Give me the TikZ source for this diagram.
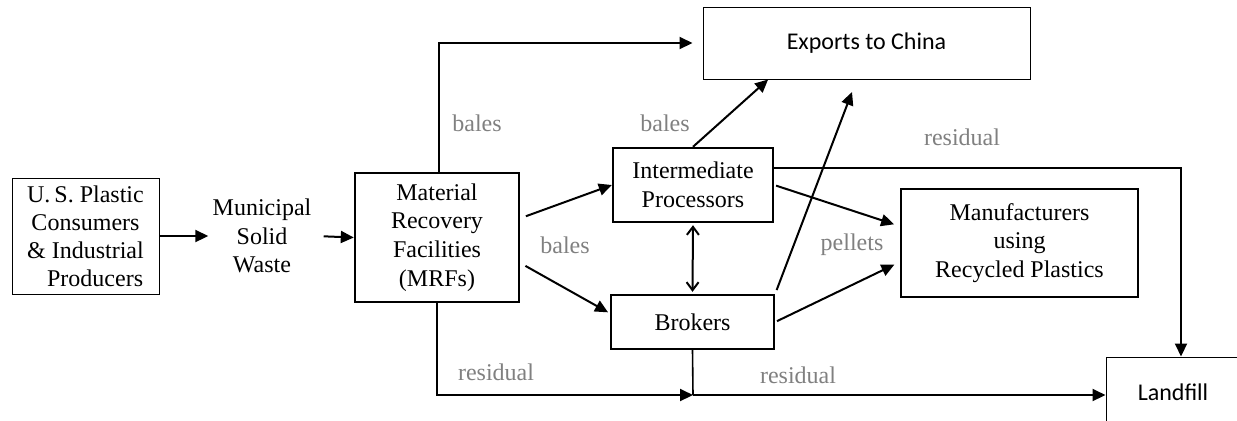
\documentclass[tikz,border=0pt]{standalone}
\usepackage{fontspec}
\setmainfont{Liberation Serif}
\newfontfamily\calfont{Carlito}
\usepackage{tikz}
\usetikzlibrary{calc,positioning,arrows.meta}
\tikzset{
	>={Triangle[length=6.5pt,width=6pt]},
	heavy/.style={draw, line width=1.2pt, align=center, inner sep=0pt},
	light/.style={draw, line width=0.5pt, align=center, inner sep=0pt, font=\calfont\fontsize{12}{14.4}\selectfont},
	plain/.style={align=center, inner sep=2pt},
	flow/.style={->, line width=1pt},
	tag/.style={text=gray, inner sep=0pt},
}
\definecolor{gray}{rgb}{0.5,0.5,0.5}

\begin{document}
\begin{tikzpicture}[
            x=0.5pt, y=-0.5pt,
            font=\fontsize{12}{14.4}\selectfont
        ]
        \useasboundingbox (0,0) rectangle (1237,420);
        % boxes
        \node[light, font=\fontsize{12}{14}\selectfont, minimum width=73.5pt, minimum height=58pt] (us) at (85.5,236)
            {U.\,S. Plastic\\Consumers\\\& Industrial\\\hspace{0.8em}Producers};
        \node[plain] (msw) at (262,236) {Municipal\\Solid\\Waste};
        \node[heavy, minimum width=82pt, minimum height=64.5pt] (mrf) at (437,237.5)
            {Material\\Recovery\\Facilities\\(MRFs)};
        \node[light, minimum width=163.5pt, minimum height=36pt] (exp) at (866.5,43) {Exports to China};
        \node[heavy, minimum width=80pt, minimum height=37pt] (ip) at (693,185)
            {Intermediate\\Processors};
        \node[heavy, minimum width=81.5pt, minimum height=27pt] (brk) at (692.5,322) {Brokers};
        \node[heavy, minimum width=118.5pt, minimum height=54pt] (man) at (1019.5,243)
            {Manufacturers\\using\\Recycled Plastics};
        \node[light, minimum width=67pt, minimum height=35pt] (land) at (1173,392) {Landfill};

        \coordinate (chn) at (852,92);
        \coordinate (jn) at (693,395);

        % connectors
        \draw[flow] (us.east) -- (msw.west);
        \draw[flow, shorten <=4pt] (msw.east) -- (mrf.west);
        \draw[flow, shorten >=5pt] ([xshift=1pt]mrf.north) |- (exp.west);
        \draw[flow, shorten <=3pt] (mrf.13) -- (ip.west);
        \draw[flow, shorten <=3pt, shorten >=1pt] (mrf.343) -- (brk.174);
        \draw[flow] (ip.north) -- ($(exp.south west)!0.2!(exp.south east)$);
        \draw[line width=1pt, {Straight Barb[length=4pt,width=6pt]}-{Straight Barb[length=4pt,width=6pt]}, shorten <=1pt, shorten >=1pt] (ip.south) -- (brk.north);
        \draw[flow, shorten <=2pt] (brk.north east) -- (chn);
        \draw[flow, shorten <=1pt, shorten >=3pt] (ip.east) -- (man.172);
        \draw[flow, shorten <=1pt, shorten >=3pt] (brk.east) -- (man.189);
        \draw[flow] (ip.12) -| ($(land.north)+(8,0)$);
        \draw[flow] (mrf.south) |- (jn);
        \draw[line width=0.8pt] (brk.south) -- (jn);
        \draw[flow] (jn) -- (land.west |- jn);

        % labels
        \node[tag] (b1) at (477,123) {bales};
        \node[tag] (b2) at (665,123) {bales};
        \node[tag] (b3) at (565,245) {bales};
        \node[tag] (pel) at (852,245) {pellets};
        \node[tag] (r1) at (962,137) {residual};
        \node[tag] (r2) at (496,372) {residual};
        \node[tag] (r3) at (798,375) {residual};
    \end{tikzpicture}
\end{document}
